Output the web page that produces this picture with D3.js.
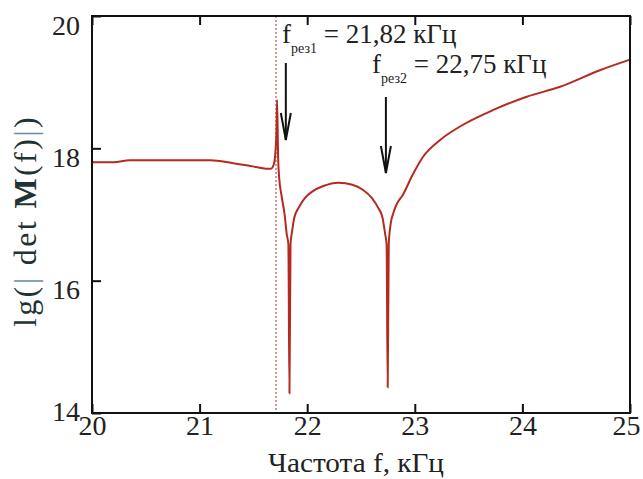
<!DOCTYPE html>
<html><head><meta charset="utf-8">
<script src="https://cdn.jsdelivr.net/npm/d3@7"></script>
<style>
html,body{margin:0;padding:0;background:#fff;}
svg{display:block;}
</style></head><body>
<svg id="c" width="643" height="479"></svg>
<script>
// Data
const freq = [20.0, 20.2, 20.35, 20.5, 20.8, 21.1, 21.3, 21.45, 21.55, 21.62, 21.66, 21.69, 21.705, 21.715, 21.72, 21.73, 21.74, 21.76, 21.79, 21.81, 21.825, 21.835, 21.845, 21.86, 21.88, 21.92, 21.98, 22.05, 22.15, 22.29, 22.42, 22.52, 22.6, 22.66, 22.7, 22.725, 22.738, 22.748, 22.758, 22.775, 22.8, 22.83, 22.89, 22.98, 23.08, 23.23, 23.42, 23.73, 24.04, 24.35, 24.72, 25.0];
const lgDet = [17.79, 17.79, 17.82, 17.82, 17.82, 17.82, 17.78, 17.74, 17.71, 17.69, 17.69, 17.76, 17.95, 18.3, 18.73, 17.85, 17.55, 17.3, 17.0, 16.7, 16.55, 14.3, 16.55, 16.75, 16.95, 17.1, 17.25, 17.35, 17.43, 17.48, 17.45, 17.37, 17.25, 17.1, 16.95, 16.7, 16.55, 14.39, 16.55, 16.85, 17.02, 17.15, 17.3, 17.6, 17.88, 18.12, 18.33, 18.58, 18.78, 18.93, 19.18, 19.34];
const xTicks = [20, 21, 22, 23, 24, 25];
const yTicks = [14, 16, 18, 20];
const markerFreq = 21.71;
const res = [
  {sub: "рез1", text: "= 21,82 кГц", f: 21.82},
  {sub: "рез2", text: "= 22,75 кГц", f: 22.75}
];
const xTitle = "Частота f, кГц";

const FONT = '"Liberation Serif","Tinos","Times New Roman",serif';
const svg = d3.select("#c");
const m = {l: 92, r: 13, t: 16, b: 66};
const W = 643, H = 479;
const x = d3.scaleLinear().domain([20, 25]).range([m.l, W - m.r]);
const y = d3.scaleLinear().domain([14, 20]).range([H - m.b, m.t]);

svg.append("line")
  .attr("x1", x(markerFreq)).attr("x2", x(markerFreq))
  .attr("y1", y(20)).attr("y2", y(14))
  .attr("stroke", "#b03030").attr("stroke-width", 1).attr("stroke-dasharray", "2,2");

const line = d3.line().x((d, i) => x(freq[i])).y(d => y(d)).curve(d3.curveMonotoneX);
svg.append("path").datum(lgDet)
  .attr("d", line)
  .attr("fill", "none").attr("stroke", "#b52a1e").attr("stroke-width", 2);

svg.append("rect").attr("x", m.l).attr("y", m.t)
  .attr("width", W - m.r - m.l).attr("height", H - m.b - m.t)
  .attr("fill", "none").attr("stroke", "#111").attr("stroke-width", 2);

const xAx = svg.append("g").attr("transform", `translate(0,${H - m.b})`)
  .call(d3.axisBottom(x).tickValues(xTicks).tickSizeInner(-9).tickSizeOuter(0).tickPadding(22).tickFormat(d3.format("d")));
const xAxTop = svg.append("g").attr("transform", `translate(0,${m.t})`)
  .call(d3.axisTop(x).tickValues(xTicks).tickSizeInner(-9).tickSizeOuter(0).tickFormat(""));
const yAx = svg.append("g").attr("transform", `translate(${m.l},0)`)
  .call(d3.axisLeft(y).tickValues(yTicks).tickSizeInner(-9).tickSizeOuter(0).tickPadding(12).tickFormat(d3.format("d")));
[xAx, xAxTop, yAx].forEach(g => {
  g.attr("font-family", null);
  g.select(".domain").remove();
  g.selectAll(".tick line").attr("stroke", "#111").attr("stroke-width", 2);
  g.selectAll("text").style("font-family", FONT).style("font-size", "28px").attr("fill", "#222");
});
xAx.selectAll(".tick text").attr("dy", "0").attr("dx", d => d === 25 ? -4 : 0);
yAx.selectAll(".tick text").attr("dy", d => d === 14 ? "0.28em" : "0.65em");

svg.append("text").attr("x", 356).attr("y", 472).attr("text-anchor", "middle")
  .style("font-family", FONT).style("font-size", "27px").attr("fill", "#222")
  .attr("textLength", 176).attr("lengthAdjust", "spacingAndGlyphs").text(xTitle);

const ylg = svg.append("g").attr("transform", "translate(36,221) rotate(-90)");
const yl = ylg.append("text").attr("text-anchor", "middle")
  .style("font-family", FONT).style("font-size", "32px").attr("fill", "#1f3333");
yl.append("tspan").text("lg(");
yl.append("tspan").attr("fill", "#6a8fa0").text("|");
yl.append("tspan").text(" det ");
yl.append("tspan").attr("font-weight", "bold").text("M");
yl.append("tspan").text("(f)");
yl.append("tspan").attr("fill", "#6a8fa0").text("|");
yl.append("tspan").text(")");
const natLen = yl.node().getComputedTextLength();
const nChars = yl.text().length;
yl.style("letter-spacing", `${Math.max(0, (212 - natLen) / nChars)}px`);

const annPos = [{fx: 282, fy: 43, ay1: 63, ay2: 140}, {fx: 372, fy: 73, ay1: 97, ay2: 173}];
res.forEach((r, i) => {
  const p = annPos[i];
  const t = svg.append("text").attr("x", p.fx).attr("y", p.fy)
    .style("font-family", FONT).style("font-size", "27px").attr("fill", "#222");
  t.append("tspan").text("f");
  t.append("tspan").attr("dy", 10).style("font-size", "14px").text(r.sub);
  t.append("tspan").attr("dy", -10).text(" " + r.text);
  const ax = x(r.f) - 2;
  svg.append("line").attr("x1", ax).attr("x2", ax).attr("y1", p.ay1).attr("y2", p.ay2)
    .attr("stroke", "#111").attr("stroke-width", 2);
  svg.append("path")
    .attr("d", `M${ax - 5},${p.ay2 - 27}L${ax},${p.ay2}L${ax + 5},${p.ay2 - 27}`)
    .attr("fill", "none").attr("stroke", "#111").attr("stroke-width", 2);
});
</script>
</body></html>
